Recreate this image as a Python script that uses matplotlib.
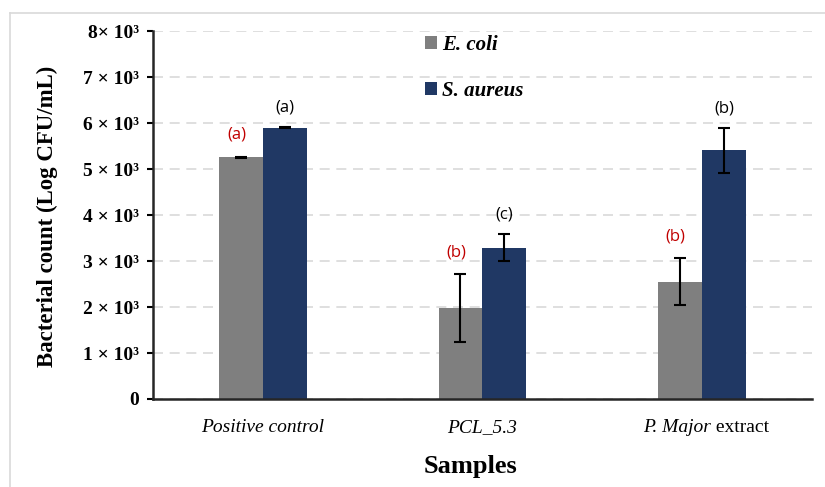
import matplotlib
matplotlib.use('Agg')
import matplotlib.pyplot as plt
from matplotlib.lines import Line2D
import numpy as np

samples = ['Positive control', 'PCL_5.3', 'P. Major extract']
ecoli = [5260, 1980, 2550]
ecoli_err = [10, 740, 515]
saureus = [5900, 3290, 5410]
saureus_err = [10, 300, 490]
ecoli_letters = ['(a)', '(b)', '(b)']
saureus_letters = ['(a)', '(c)', '(b)']
yticks = [0, 1000, 2000, 3000, 4000, 5000, 6000, 7000, 8000]
ytick_labels = ['0'] + ['%d \u00d7 10\u00b3' % (v // 1000) for v in yticks[1:]]
ytick_labels[-1] = '8\u00d7 10\u00b3'

gray = '#7f7f7f'
navy = '#203864'
serif = 'Liberation Serif'
sans = 'Open Sans'

fig = plt.figure(figsize=(8.25, 4.87), dpi=100)
ax = fig.add_axes([0.1855, 0.1807, 0.7985, 0.7556])

x = np.arange(len(samples))
w = 0.2
ax.bar(x - w / 2, ecoli, w, color=gray, label='E. coli', zorder=2)
ax.bar(x + w / 2, saureus, w, color=navy, label='S. aureus', zorder=2)
ax.errorbar(x - w / 2, ecoli, yerr=ecoli_err, fmt='none', ecolor='black',
            elinewidth=1.5, capsize=4, capthick=1.5, zorder=3)
ax.errorbar(x + w / 2, saureus, yerr=saureus_err, fmt='none', ecolor='black',
            elinewidth=1.5, capsize=4, capthick=1.5, zorder=3)

# significance letters
for i in range(len(samples)):
    ax.text(x[i] - w / 2 - 0.02, ecoli[i] + ecoli_err[i] + 300, ecoli_letters[i],
            color='#c00000', ha='center', va='bottom', fontsize=12, family=sans)
    ax.text(x[i] + w / 2, saureus[i] + saureus_err[i] + 250, saureus_letters[i],
            color='black', ha='center', va='bottom', fontsize=12, family=sans)

ax.set_xlim(-0.5, 2.5)
ax.set_ylim(0, 8000)
ax.set_yticks(yticks)
ax.set_yticklabels(ytick_labels, family=serif, fontweight='bold', fontsize=14)
ax.set_xticks(x)
ax.set_xticklabels([])
ax.tick_params(axis='x', length=0)
ax.tick_params(axis='y', length=4, width=1.5, pad=6)

for i, lab in enumerate(samples):
    if i == 2:
        ax.text(x[i] + 0.04, -430, 'P. Major', ha='right', va='top', fontsize=14,
                family=serif, style='italic')
        ax.text(x[i] + 0.04, -430, ' extract', ha='left', va='top', fontsize=14,
                family=serif)
    else:
        ax.text(x[i], -430, lab, ha='center', va='top', fontsize=14,
                family=serif, style='italic')

ax.yaxis.grid(True, linestyle=(0, (6, 4)), color='#d9d9d9', linewidth=1.2, zorder=0)
for s in ['top', 'right']:
    ax.spines[s].set_visible(False)
ax.spines['left'].set_linewidth(1.8)
ax.spines['left'].set_color('#262626')
ax.spines['bottom'].set_linewidth(1.8)
ax.spines['bottom'].set_color('#262626')

ax.set_ylabel('Bacterial count (Log CFU/mL)', family=serif, fontweight='bold',
              fontsize=16.5)
ax.yaxis.set_label_coords(-0.145, 0.495)
fig.text(0.57, 0.043, 'Samples', family=serif, fontweight='bold', fontsize=19,
         ha='center', va='center')

leg = ax.legend(loc='upper left', bbox_to_anchor=(0.385, 1.04), frameon=False,
                prop={'family': serif, 'weight': 'bold', 'style': 'italic', 'size': 15},
                handlelength=0.55, handleheight=0.55, handletextpad=0.25, labelspacing=1.25)

# outer frame
fig.add_artist(Line2D([10 / 825, 10 / 825], [0, 1 - 13 / 487], color='#d9d9d9', lw=1.2))
fig.add_artist(Line2D([10 / 825, 1], [1 - 13 / 487, 1 - 13 / 487], color='#d9d9d9', lw=1.2))

fig.savefig('out.png', dpi=100)
